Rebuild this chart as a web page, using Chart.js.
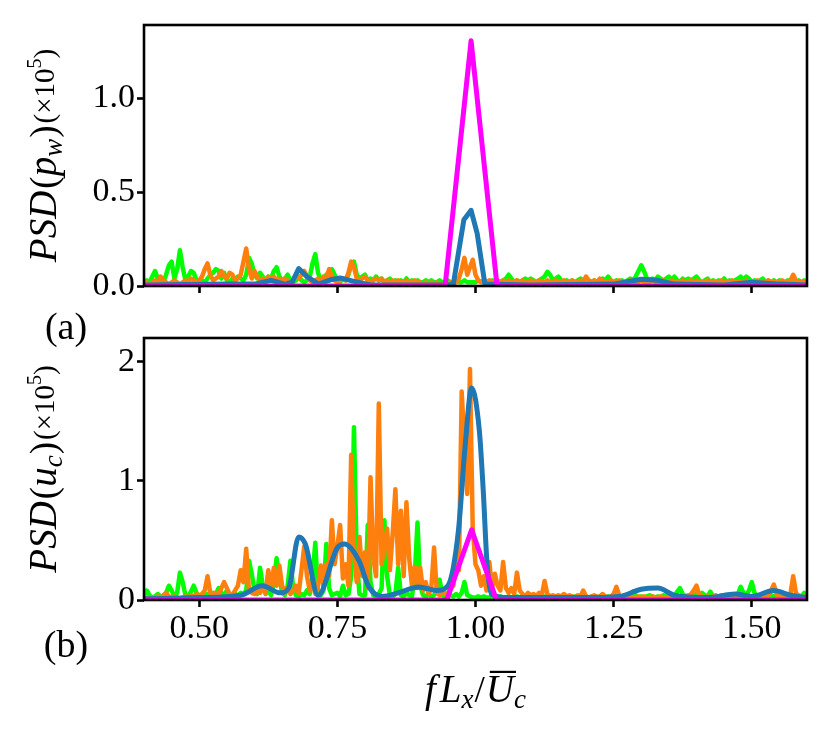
<!DOCTYPE html>
<html>
<head>
<meta charset="utf-8">
<script src="https://cdn.jsdelivr.net/npm/chart.js@4.4.1/dist/chart.umd.min.js"></script>
<style>
  html, body { margin: 0; padding: 0; background: #fff; }
  #wrap { position: relative; width: 832px; height: 733px; }
  #wrap canvas { position: absolute; left: 0; top: 0; }
</style>
</head>
<body>
<div id="wrap">
  <canvas id="bottomChart" width="832" height="733"></canvas>
  <canvas id="topChart" width="832" height="733"></canvas>
</div>
<script>
const SERIF = '"Liberation Serif", "DejaVu Serif", serif';
const FS = 34;

// axes
const xTicks = [0.5, 0.75, 1.0, 1.25, 1.5];
const topYTicks = [0, 0.5, 1.0];
const bottomYTicks = [0, 1, 2];

// sampling grid of the noisy spectra: 0.400 .. 1.600, step 0.005 (241 points)
const freqGrid = [];
for (let i = 0; i <= 240; i++) freqGrid.push(+(0.4 + i * 0.005).toFixed(3));

// (a) PSD(p_w), green series
const topGreen = [
    0.02,0.03,0.02,0.05,0.08,0.04,0.02,0.02,0.06,0.11,
    0.13,0.04,0.09,0.19,0.10,0.03,0.05,0.08,0.07,0.03,
    0.02,0.03,0.02,0.04,0.06,0.07,0.09,0.08,0.04,0.07,
    0.03,0.02,0.04,0.03,0.05,0.04,0.03,0.06,0.15,0.12,
    0.06,0.04,0.07,0.05,0.03,0.05,0.04,0.08,0.10,0.05,
    0.03,0.04,0.06,0.03,0.02,0.03,0.05,0.03,0.02,0.03,
    0.05,0.12,0.17,0.07,0.03,0.04,0.06,0.05,0.09,0.06,
    0.03,0.02,0.04,0.03,0.06,0.11,0.13,0.06,0.04,0.05,
    0.06,0.03,0.04,0.03,0.05,0.03,0.04,0.02,0.03,0.04,
    0.02,0.03,0.02,0.03,0.02,0.04,0.02,0.03,0.02,0.03,
    0.02,0.02,0.03,0.02,0.03,0.02,0.02,0.03,0.02,0.02,
    0.03,0.02,0.02,0.03,0.02,0.02,0.03,0.02,0.02,0.02,
    0.02,0.03,0.02,0.03,0.02,0.02,0.03,0.02,0.03,0.02,
    0.03,0.04,0.06,0.04,0.02,0.03,0.02,0.03,0.04,0.03,
    0.04,0.03,0.02,0.03,0.04,0.05,0.075,0.06,0.03,0.04,
    0.05,0.03,0.02,0.03,0.02,0.03,0.02,0.03,0.04,0.03,
    0.04,0.03,0.02,0.03,0.02,0.03,0.04,0.03,0.05,0.03,
    0.02,0.03,0.02,0.03,0.02,0.03,0.04,0.03,0.05,0.08,
    0.11,0.08,0.04,0.03,0.04,0.03,0.05,0.04,0.03,0.04,
    0.05,0.03,0.05,0.03,0.02,0.04,0.03,0.04,0.03,0.04,
    0.05,0.03,0.02,0.03,0.04,0.02,0.03,0.02,0.03,0.02,
    0.04,0.02,0.03,0.02,0.03,0.04,0.05,0.03,0.05,0.04,
    0.02,0.03,0.02,0.03,0.04,0.02,0.03,0.02,0.03,0.02,
    0.03,0.02,0.02,0.03,0.02,0.03,0.02,0.03,0.02,0.03,
    0.02
];

// (a) orange series
const topOrange = [
    0.01,0.02,0.01,0.02,0.03,0.02,0.05,0.03,0.02,0.01,
    0.02,0.03,0.02,0.01,0.02,0.03,0.02,0.04,0.03,0.02,
    0.03,0.05,0.09,0.12,0.06,0.03,0.04,0.05,0.08,0.05,
    0.04,0.07,0.06,0.03,0.04,0.06,0.13,0.20,0.09,0.04,
    0.08,0.05,0.03,0.04,0.03,0.05,0.04,0.05,0.03,0.04,
    0.03,0.04,0.03,0.02,0.03,0.05,0.04,0.06,0.08,0.05,
    0.03,0.02,0.03,0.04,0.03,0.05,0.04,0.09,0.05,0.03,
    0.02,0.03,0.04,0.03,0.07,0.13,0.10,0.04,0.03,0.04,
    0.05,0.03,0.02,0.03,0.04,0.03,0.04,0.02,0.03,0.02,
    0.03,0.02,0.03,0.02,0.02,0.03,0.02,0.02,0.03,0.02,
    0.02,0.01,0.02,0.01,0.02,0.01,0.02,0.01,0.01,0.02,
    0.01,0.02,0.01,0.02,0.04,0.09,0.15,0.06,0.10,0.14,
    0.06,0.03,0.02,0.03,0.02,0.03,0.02,0.02,0.03,0.02,
    0.03,0.02,0.03,0.02,0.02,0.03,0.02,0.03,0.02,0.02,
    0.03,0.02,0.02,0.03,0.02,0.02,0.03,0.02,0.02,0.03,
    0.02,0.02,0.03,0.02,0.02,0.03,0.02,0.02,0.03,0.02,
    0.05,0.03,0.02,0.03,0.02,0.04,0.03,0.02,0.02,0.03,
    0.02,0.02,0.03,0.02,0.02,0.02,0.03,0.02,0.02,0.02,
    0.03,0.02,0.02,0.02,0.03,0.02,0.02,0.02,0.03,0.02,
    0.02,0.03,0.02,0.02,0.02,0.03,0.02,0.02,0.03,0.02,
    0.03,0.02,0.02,0.02,0.03,0.02,0.02,0.02,0.02,0.03,
    0.02,0.02,0.02,0.03,0.02,0.02,0.02,0.02,0.03,0.02,
    0.02,0.02,0.03,0.02,0.02,0.02,0.03,0.02,0.02,0.02,
    0.02,0.03,0.02,0.02,0.03,0.06,0.03,0.02,0.02,0.02,
    0.02
];

// (a) blue and magenta curves
const topBlueFreq = [0.40, 0.55, 0.60, 0.63, 0.655, 0.668, 0.680, 0.695, 0.716, 0.74, 0.755, 0.78, 0.81, 0.95, 0.960, 0.979, 0.992, 1.003, 1.017, 1.10, 1.25, 1.30, 1.33, 1.36, 1.45, 1.50, 1.55, 1.60];
const topBlue     = [0.005, 0.01, 0.01, 0.03, 0.01, 0.02, 0.093, 0.05, 0.01, 0.035, 0.043, 0.025, 0.005, 0.005, 0.013, 0.353, 0.403, 0.28, 0.01, 0.005, 0.01, 0.036, 0.03, 0.01, 0.005, 0.02, 0.01, 0.005];
const topMagentaFreq = [0.40, 0.945, 0.992, 1.039, 1.60];
const topMagenta     = [0, 0, 1.306, 0, 0];

// (b) PSD(u_c), green series
const botGreen = [
    0.03,0.08,0.04,0.02,0.03,0.05,0.03,0.02,0.06,0.12,
    0.08,0.03,0.06,0.23,0.15,0.04,0.03,0.07,0.12,0.06,
    0.03,0.04,0.03,0.05,0.04,0.06,0.05,0.10,0.06,0.04,
    0.08,0.04,0.03,0.05,0.04,0.06,0.05,0.08,0.33,0.22,
    0.08,0.05,0.27,0.12,0.05,0.08,0.04,0.15,0.35,0.18,
    0.06,0.04,0.12,0.33,0.10,0.04,0.03,0.05,0.04,0.08,
    0.05,0.20,0.48,0.06,0.04,0.08,0.47,0.10,0.04,0.05,
    0.06,0.03,0.12,0.04,0.05,0.20,1.45,0.35,0.05,0.04,
    0.04,0.63,0.15,0.04,0.03,0.05,0.10,0.67,0.20,0.04,
    0.03,0.05,0.27,0.04,0.03,0.06,0.04,0.03,0.20,0.65,
    0.12,0.04,0.03,0.05,0.03,0.04,0.08,0.17,0.04,0.03,
    0.03,0.04,0.03,0.05,0.03,0.06,0.15,0.04,0.03,0.02,
    0.02,0.03,0.02,0.03,0.02,0.02,0.03,0.02,0.02,0.03,
    0.02,0.02,0.03,0.02,0.02,0.03,0.02,0.02,0.03,0.02,
    0.02,0.03,0.02,0.02,0.02,0.03,0.02,0.02,0.03,0.02,
    0.02,0.02,0.03,0.02,0.02,0.02,0.03,0.02,0.02,0.02,
    0.03,0.02,0.02,0.02,0.03,0.02,0.02,0.02,0.03,0.02,
    0.02,0.03,0.02,0.02,0.03,0.02,0.04,0.07,0.04,0.02,
    0.03,0.02,0.03,0.04,0.03,0.02,0.03,0.02,0.04,0.03,
    0.02,0.04,0.03,0.07,0.10,0.05,0.03,0.04,0.03,0.06,
    0.04,0.03,0.06,0.04,0.03,0.07,0.03,0.02,0.03,0.04,
    0.03,0.02,0.03,0.04,0.03,0.05,0.11,0.06,0.04,0.08,
    0.15,0.06,0.03,0.04,0.03,0.02,0.03,0.04,0.03,0.02,
    0.03,0.02,0.03,0.02,0.03,0.02,0.03,0.04,0.03,0.06,
    0.04
];

// (b) orange series
const botOrange = [
    0.02,0.01,0.02,0.01,0.02,0.03,0.02,0.04,0.06,0.03,
    0.02,0.03,0.02,0.01,0.02,0.03,0.02,0.04,0.03,0.05,
    0.04,0.05,0.08,0.20,0.06,0.03,0.06,0.04,0.10,0.15,
    0.10,0.05,0.04,0.08,0.12,0.25,0.15,0.43,0.08,0.06,
    0.05,0.08,0.06,0.10,0.06,0.25,0.10,0.27,0.12,0.29,
    0.12,0.06,0.10,0.05,0.08,0.12,0.06,0.25,0.45,0.20,
    0.08,0.15,0.05,0.12,0.29,0.10,0.30,0.20,0.67,0.30,
    0.45,0.63,0.18,0.30,0.12,1.22,0.40,0.15,0.53,0.20,
    0.40,0.10,1.03,0.35,0.20,1.65,0.30,0.45,0.60,0.25,
    0.55,0.93,0.30,0.75,0.20,0.82,0.35,0.12,0.28,0.10,
    0.27,0.08,0.15,0.05,0.10,0.44,0.06,0.04,0.08,0.05,
    0.06,0.10,0.12,0.36,0.25,1.75,1.30,0.89,1.94,0.60,
    0.30,0.25,0.12,0.20,0.08,0.32,0.10,0.22,0.12,0.08,
    0.32,0.10,0.06,0.10,0.05,0.23,0.08,0.05,0.03,0.06,
    0.04,0.05,0.03,0.06,0.04,0.16,0.05,0.03,0.04,0.03,
    0.04,0.03,0.05,0.03,0.04,0.03,0.02,0.04,0.03,0.08,
    0.03,0.02,0.03,0.04,0.02,0.03,0.05,0.03,0.02,0.03,
    0.05,0.11,0.04,0.02,0.03,0.02,0.03,0.02,0.02,0.03,
    0.02,0.03,0.02,0.02,0.03,0.02,0.02,0.03,0.02,0.02,
    0.03,0.02,0.02,0.03,0.02,0.04,0.03,0.02,0.05,0.08,
    0.12,0.04,0.03,0.02,0.03,0.02,0.03,0.04,0.02,0.03,
    0.02,0.03,0.02,0.02,0.03,0.02,0.03,0.02,0.03,0.02,
    0.03,0.02,0.03,0.02,0.03,0.05,0.04,0.08,0.13,0.05,
    0.03,0.02,0.03,0.02,0.05,0.20,0.06,0.03,0.02,0.03,
    0.02
];

// (b) blue and magenta curves
const botBlueFreq = [0.40, 0.50, 0.575, 0.614, 0.647, 0.662, 0.680, 0.692, 0.715, 0.750, 0.763, 0.789, 0.807, 0.831, 0.86, 0.897, 0.930, 0.950, 0.969, 0.981, 0.993, 1.007, 1.014, 1.021, 1.029, 1.06, 1.20, 1.26, 1.30, 1.33, 1.36, 1.42, 1.47, 1.50, 1.54, 1.57, 1.60];
const botBlue     = [0.01, 0.02, 0.04, 0.12, 0.06, 0.10, 0.53, 0.47, 0.04, 0.44, 0.47, 0.33, 0.11, 0.03, 0.06, 0.11, 0.08, 0.12, 0.58, 1.28, 1.78, 1.42, 0.92, 0.30, 0.05, 0.02, 0.02, 0.03, 0.09, 0.10, 0.04, 0.02, 0.05, 0.03, 0.08, 0.04, 0.02];
const botMagentaFreq = [0.40, 0.948, 0.993, 1.038, 1.60];
const botMagenta     = [0, 0, 0.59, 0, 0];

const colors = {
    green: "#00ff00",
    orange: "#ff7f0e",
    blue: "#1f77b4",
    magenta: "#ff00ff",
};

Chart.defaults.color = "#000";
Chart.defaults.font.family = SERIF;
Chart.defaults.font.size = FS;

function pairs(xs, ys) {
    return xs.map((x, i) => ({ x, y: ys[i] }));
}

function lineSet(data, color, width, order, smooth) {
    return {
        data,
        borderColor: color,
        borderWidth: width,
        pointRadius: 0,
        fill: false,
        tension: smooth ? 0.3 : 0,
        cubicInterpolationMode: smooth ? "monotone" : "default",
        borderJoinStyle: "round",
        borderCapStyle: "round",
        order,
        clip: 0,
    };
}

function scalesFor(yMax, yTicks, yFmt, showX, xHeight) {
    const tickGrid = {
        drawOnChartArea: false,
        drawTicks: true,
        tickLength: 7,
        tickWidth: 2.6,
        tickColor: "#000",
        color: "#000",
    };
    return {
        x: {
            type: "linear",
            min: 0.4,
            max: 1.6,
            afterBuildTicks: (s) => { s.ticks = xTicks.map((v) => ({ value: v })); },
            afterFit: (s) => { s.height = xHeight; },
            grid: tickGrid,
            border: { display: false },
            ticks: {
                display: showX,
                padding: 2,
                maxRotation: 0,
                autoSkip: false,
                callback: (v) => Number(v).toFixed(2),
            },
        },
        y: {
            min: 0,
            max: yMax,
            afterBuildTicks: (s) => { s.ticks = yTicks.map((v) => ({ value: v })); },
            afterFit: (s) => { s.width = 144; },
            grid: tickGrid,
            border: { display: false },
            ticks: {
                padding: 2,
                callback: yFmt,
            },
        },
    };
}

// full box around the axes
const frame = {
    id: "frame",
    afterDatasetsDraw(chart) {
        const { ctx, chartArea: a } = chart;
        ctx.save();
        ctx.strokeStyle = "#000";
        ctx.lineWidth = 2.6;
        ctx.strokeRect(a.left, a.top, a.right - a.left, a.bottom - a.top);
        ctx.restore();
    },
};

function fontOf(r) {
    return (r.it ? "italic " : "") + r.s + "px " + SERIF;
}

// draw a run of text pieces (sub/superscripts via dy), centred on x,y
function drawRuns(ctx, runs, x, y, angle) {
    ctx.save();
    ctx.translate(x, y);
    ctx.rotate(angle || 0);
    ctx.fillStyle = "#000";
    ctx.textBaseline = "alphabetic";
    ctx.textAlign = "left";
    let total = 0;
    for (const r of runs) {
        ctx.font = fontOf(r);
        r.w = ctx.measureText(r.t).width;
        total += r.w + (r.kern || 0);
    }
    let cx = -total / 2;
    for (const r of runs) {
        ctx.font = fontOf(r);
        ctx.fillText(r.t, cx, r.dy || 0);
        if (r.bar) ctx.fillRect(cx + 4, (r.dy || 0) - r.s * 0.8, r.w - 2, 2.2);
        cx += r.w + (r.kern || 0);
    }
    ctx.restore();
}

const M = 39, P = 37, S = 27, SM = 29, SS = 20;

function yLabelRuns(sym, sub) {
    return [
        { t: "PSD", it: true, s: M, kern: 2 },
        { t: "(", s: P },
        { t: sym, it: true, s: M },
        { t: sub, it: true, s: S, dy: 6, kern: 1 },
        { t: ")", s: P, kern: 2 },
        { t: "(×10", s: SM, dy: -2 },
        { t: "5", s: SS, dy: -15 },
        { t: ")", s: SM, dy: -2 },
    ];
}

const topText = {
    id: "topText",
    afterDraw(chart) {
        const ctx = chart.ctx;
        const a = chart.chartArea;
        drawRuns(ctx, yLabelRuns("p", "w"), 56, (a.top + a.bottom) / 2, -Math.PI / 2);
        drawRuns(ctx, [{ t: "(a)", s: 38 }], 66, 339);
    },
};

const bottomText = {
    id: "bottomText",
    afterDraw(chart) {
        const ctx = chart.ctx;
        const a = chart.chartArea;
        drawRuns(ctx, yLabelRuns("u", "c"), 56, (a.top + a.bottom) / 2, -Math.PI / 2);
        drawRuns(ctx, [{ t: "(b)", s: 38 }], 66, 657);
        drawRuns(ctx, [
            { t: "f", it: true, s: M, kern: 4 },
            { t: "L", it: true, s: M },
            { t: "x", it: true, s: S, dy: 6, kern: 1 },
            { t: "/", s: P, kern: 1 },
            { t: "U", it: true, s: M, bar: true },
            { t: "c", it: true, s: S, dy: 6 },
        ], (a.left + a.right) / 2, 702);
    },
};

function makeChart(id, datasets, yMax, yTicks, yFmt, showX, xHeight, padding, textPlugin) {
    return new Chart(document.getElementById(id), {
        type: "line",
        data: { datasets },
        options: {
            responsive: false,
            animation: false,
            devicePixelRatio: 1,
            layout: { padding },
            plugins: { legend: { display: false }, tooltip: { enabled: false } },
            scales: scalesFor(yMax, yTicks, yFmt, showX, xHeight),
        },
        plugins: [frame, textPlugin],
    });
}

makeChart(
    "topChart",
    [
        lineSet(pairs(topMagentaFreq, topMagenta), colors.magenta, 5, 1, false),
        lineSet(pairs(topBlueFreq, topBlue), colors.blue, 5, 2, false),
        lineSet(pairs(freqGrid, topOrange), colors.orange, 4.5, 3, false),
        lineSet(pairs(freqGrid, topGreen), colors.green, 4.5, 4, false),
    ],
    1.39, topYTicks, (v) => Number(v).toFixed(1), false, 50,
    { top: 25, right: 25, bottom: 397, left: 0 },
    topText
);

makeChart(
    "bottomChart",
    [
        lineSet(pairs(botMagentaFreq, botMagenta), colors.magenta, 5, 1, false),
        lineSet(pairs(botBlueFreq, botBlue), colors.blue, 5, 2, true),
        lineSet(pairs(freqGrid, botOrange), colors.orange, 4.5, 3, false),
        lineSet(pairs(freqGrid, botGreen), colors.green, 4.5, 4, false),
    ],
    2.2, bottomYTicks, (v) => String(Number(v)), true, 90,
    { top: 338, right: 25, bottom: 43, left: 0 },
    bottomText
);
</script>
</body>
</html>
